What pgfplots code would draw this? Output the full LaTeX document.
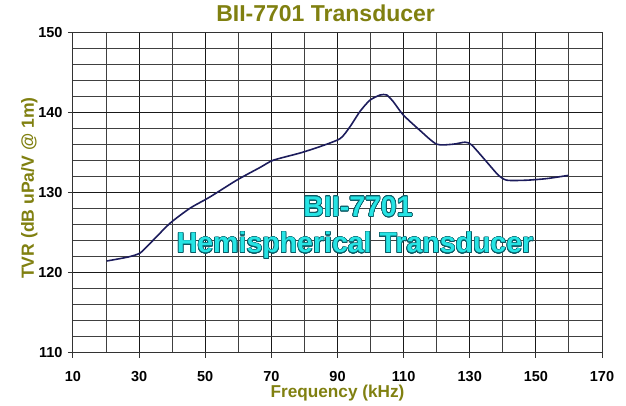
\documentclass[border=0pt]{standalone}
\usepackage{pgfplots}
\pgfplotsset{compat=1.18}
\usetikzlibrary{calc}
\usepackage{fontspec}
\setmainfont{Liberation Sans}
\usepackage{contour}
\contourlength{0.6pt}
\contournumber{24}
\definecolor{olivetxt}{RGB}{128,128,16}
\definecolor{curvecol}{RGB}{28,28,92}
\definecolor{cyanfill}{RGB}{38,228,228}
\definecolor{cyanedge}{RGB}{10,90,100}

\begin{document}
\begin{tikzpicture}
\begin{axis}[
  scale only axis, width=529pt, height=320pt,
  xmin=10, xmax=170, ymin=110, ymax=150,
  xtick={10,30,...,170}, minor xtick={20,40,...,160},
  ytick={110,120,...,150},
  minor ytick={112,114,116,118,122,124,126,128,132,134,136,138,142,144,146,148},
  grid=both,
  major grid style={black!90,line width=1pt},
  minor grid style={black!75,line width=1pt},
  axis line style={black!80,line width=1pt},
  tick align=outside, major tick length=5pt, minor tick length=0pt,
  tick style={black!80,line width=1pt},
  xtick pos=bottom, ytick pos=left,
  tick label style={font=\fontsize{14.5}{17}\selectfont\bfseries},
  /pgf/number format/assume math mode=true,
  xticklabel style={yshift=-10pt},
  yticklabel style={xshift=-2pt},
  clip=false,
]
\coordinate (sw) at (rel axis cs:0,0);
\coordinate (ne) at (rel axis cs:1,1);

\addplot[curvecol, line width=1.6pt, smooth, tension=0.4] coordinates {
 (20.2,121.5) (26.7,122.0) (30.3,122.5) (33.3,123.7) (39.3,126.2)
 (45.4,128.1) (51.4,129.5) (59.5,131.6) (66.6,133.2) (70.6,134.1)
 (78.7,135.0) (84.7,135.8) (90.8,136.8) (93.8,138.3) (96.8,140.2)
 (99.8,141.6) (102.9,142.25) (104.9,142.25) (106.9,141.4) (109.9,139.75)
 (115.0,137.8) (120.0,136.1) (125.0,136.1) (128.6,136.35) (130.6,136.0)
 (135.1,133.9) (138.6,132.25) (141.2,131.6) (147.2,131.6) (153.3,131.8)
 (159.8,132.2)
};

\node[text=cyanfill, font=\fontsize{28.5}{30}\selectfont\bfseries]
  at (axis cs:96.2,128.25) {\contour{cyanedge}{BII-7701}};
\node[text=cyanfill, font=\fontsize{28.5}{30}\selectfont\bfseries]
  at (axis cs:95.3,123.4) {\contour{cyanedge}{Hemispherical Transducer}};

\node[anchor=base, text=olivetxt, font=\fontsize{23}{26}\selectfont\bfseries]
  at ([yshift=11pt]axis cs:86.4,150) {BII-7701 Transducer};
\node[anchor=base, text=olivetxt, font=\fontsize{17.2}{20}\selectfont\bfseries]
  at ([yshift=-45pt]axis cs:90,110) {Frequency (kHz)};
\node[anchor=base, rotate=90, text=olivetxt, font=\fontsize{17.6}{20}\selectfont\bfseries]
  at ([xshift=-39pt]axis cs:10,130.6) {TVR (dB uPa/V @ 1m)};
\end{axis}
\pgfresetboundingbox
\path ($(sw)+(-73pt,-53pt)$) rectangle ($(ne)+(24pt,33pt)$);
\end{tikzpicture}
\end{document}
